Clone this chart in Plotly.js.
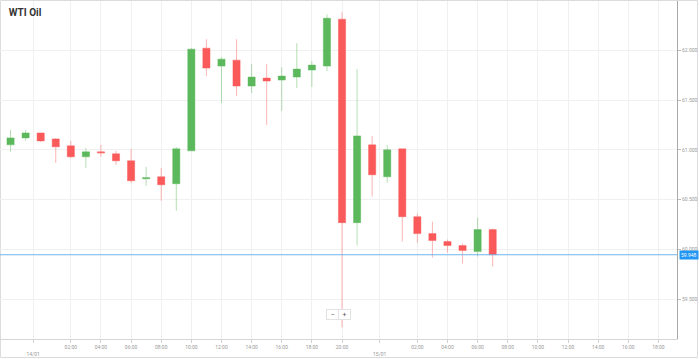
<!DOCTYPE html>
<html>
<head>
<meta charset="utf-8">
<script src="https://cdn.plot.ly/plotly-3.0.1.min.js"></script>
<style>
html,body{margin:0;padding:0;background:#fff;}
#chart{width:699px;height:359px;}
</style>
</head>
<body>
<div id="chart"></div>
<script>
// Hourly candles (a one-hour market break 21:00-22:00 each day)
const times = [
  '2020-01-13 20:00','2020-01-13 22:00','2020-01-13 23:00',
  '2020-01-14 00:00','2020-01-14 01:00','2020-01-14 02:00','2020-01-14 03:00',
  '2020-01-14 04:00','2020-01-14 05:00','2020-01-14 06:00','2020-01-14 07:00',
  '2020-01-14 08:00','2020-01-14 09:00','2020-01-14 10:00','2020-01-14 11:00',
  '2020-01-14 12:00','2020-01-14 13:00','2020-01-14 14:00','2020-01-14 15:00',
  '2020-01-14 16:00','2020-01-14 17:00','2020-01-14 18:00','2020-01-14 19:00',
  '2020-01-14 20:00','2020-01-14 22:00','2020-01-14 23:00',
  '2020-01-15 00:00','2020-01-15 01:00','2020-01-15 02:00','2020-01-15 03:00',
  '2020-01-15 04:00','2020-01-15 05:00','2020-01-15 06:00','2020-01-15 07:00'
];
const openV  = [61.04,61.05,61.12, 61.17,61.11,61.04,60.93,60.98,60.96,60.89,60.71,60.73,60.66,60.99,62.02,61.84,61.90,61.64,61.72,61.70,61.73,61.80,61.84,62.31,60.27,61.05, 60.73,61.01,60.33,60.16,60.08,60.04,59.98,60.20];
const highV  = [61.08,61.20,61.20, 61.17,61.12,61.09,61.02,61.05,60.99,61.01,60.83,60.82,61.03,62.02,62.11,61.93,62.11,61.86,61.86,61.83,62.07,61.89,62.36,62.38,61.81,61.14, 61.05,61.01,60.36,60.28,60.10,60.06,60.32,60.21];
const lowV   = [61.02,60.98,61.09, 61.08,60.87,60.92,60.82,60.93,60.85,60.67,60.64,60.49,60.39,60.99,61.74,61.47,61.54,61.57,61.25,61.39,61.62,61.63,61.79,59.22,60.04,60.53, 60.67,60.08,60.07,59.92,59.97,59.86,59.93,59.83];
const closeV = [61.06,61.12,61.17, 61.09,61.03,60.93,60.98,60.97,60.89,60.69,60.72,60.65,61.01,62.01,61.82,61.91,61.64,61.73,61.69,61.74,61.81,61.85,62.32,60.27,61.14,60.75, 61.00,60.33,60.16,60.09,60.04,59.99,60.20,59.948];

const lastPrice = 59.948;
const lastLabel = '59.948';

const tickTimes = [
  '2020-01-13 23:30','2020-01-14 02:00','2020-01-14 04:00','2020-01-14 06:00','2020-01-14 08:00',
  '2020-01-14 10:00','2020-01-14 12:00','2020-01-14 14:00','2020-01-14 16:00','2020-01-14 18:00',
  '2020-01-14 20:00','2020-01-14 23:30','2020-01-15 02:00','2020-01-15 04:00','2020-01-15 06:00',
  '2020-01-15 08:00','2020-01-15 10:00','2020-01-15 12:00','2020-01-15 14:00','2020-01-15 16:00',
  '2020-01-15 18:00'
];
const tickLabels = [
  ' <br>14/01','02:00','04:00','06:00','08:00','10:00','12:00','14:00','16:00','18:00',
  '20:00',' <br>15/01','02:00','04:00','06:00','08:00','10:00','12:00','14:00','16:00','18:00'
];

const green = '#5cb85c', red = '#fa5a5a';

const trace = {
  type: 'candlestick',
  x: times, open: openV, high: highV, low: lowV, close: closeV,
  increasing: {line: {color: 'rgba(92,184,92,0.45)', width: 1}, fillcolor: green},
  decreasing: {line: {color: 'rgba(250,90,90,0.45)', width: 1}, fillcolor: red},
  hoverinfo: 'none',
  showlegend: false
};

const W = 699, H = 359, mL = 0, mR = 22, mT = 1, mB = 20;
const pw = W - mL - mR, ph = H - mT - mB;

const layout = {
  width: W, height: H,
  margin: {l: mL, r: mR, t: mT, b: mB, pad: 0},
  paper_bgcolor: '#ffffff', plot_bgcolor: '#ffffff',
  font: {family: 'Roboto, "Open Sans", sans-serif', color: '#999'},
  title: {text: '<b>WTI Oil</b>', x: 9 / W, xanchor: 'left', xref: 'paper',
          y: 1 - 12 / H, yanchor: 'middle', yref: 'container',
          font: {family: 'Roboto, sans-serif', size: 10, color: '#333'}},
  boxgap: 0.32,
  xaxis: {
    type: 'date',
    range: ['2020-01-13 20:18', '2020-01-15 19:14'],
    rangebreaks: [{pattern: 'hour', bounds: [21, 22]}],
    rangeslider: {visible: false},
    tickmode: 'array', tickvals: tickTimes, ticktext: tickLabels,
    showgrid: true, gridcolor: '#f0f0f0', gridwidth: 1,
    showline: true, linecolor: '#d6d6d6', linewidth: 1,
    ticks: 'outside', ticklen: 3, tickcolor: '#cfcfcf',
    tickfont: {size: 5, color: '#999'},
    zeroline: false, fixedrange: true
  },
  yaxis: {
    side: 'right',
    range: [59.103, 62.493],
    tick0: 59.5, dtick: 0.5, tickformat: '.3f',
    showgrid: true, gridcolor: '#f0f0f0', gridwidth: 1,
    showline: true, linecolor: '#a8a8a8', linewidth: 1,
    ticks: 'outside', ticklen: 3, tickcolor: '#bbb',
    tickfont: {size: 5, color: '#999'},
    zeroline: false, fixedrange: true
  },
  shapes: [
    {type: 'line', xref: 'paper', yref: 'y', x0: 0, x1: 1, y0: lastPrice, y1: lastPrice,
     line: {color: '#6fb3ec', width: 1}},
    {type: 'rect', xref: 'paper', yref: 'paper',
     x0: 0.5 / pw, x1: (W - 1.5) / pw, y0: -(H - 1.5 - mT - ph) / ph, y1: 1 + (mT - 0.5) / ph,
     line: {color: '#dcdcdc', width: 1}, fillcolor: 'rgba(0,0,0,0)', layer: 'below'}
  ],
  annotations: [
    {xref: 'paper', yref: 'y', x: 1, y: lastPrice, xanchor: 'left', yanchor: 'middle',
     xshift: 2, text: lastLabel, showarrow: false, bgcolor: '#2196f3', borderpad: 1,
     font: {size: 5, color: '#ffffff'}},
    {xref: 'paper', yref: 'paper', x: 332.5 / pw, y: (H - mB - 320) / ph, text: '−',
     showarrow: false, bgcolor: '#ffffff', bordercolor: '#e2e2e2', borderwidth: 1, borderpad: 1,
     width: 9, height: 7, font: {size: 7, color: '#555'}},
    {xref: 'paper', yref: 'paper', x: 344.5 / pw, y: (H - mB - 320) / ph, text: '+',
     showarrow: false, bgcolor: '#ffffff', bordercolor: '#e2e2e2', borderwidth: 1, borderpad: 1,
     width: 9, height: 7, font: {size: 7, color: '#555'}}
  ]
};

Plotly.newPlot('chart', [trace], layout, {displayModeBar: false, staticPlot: true});
</script>
</body>
</html>
